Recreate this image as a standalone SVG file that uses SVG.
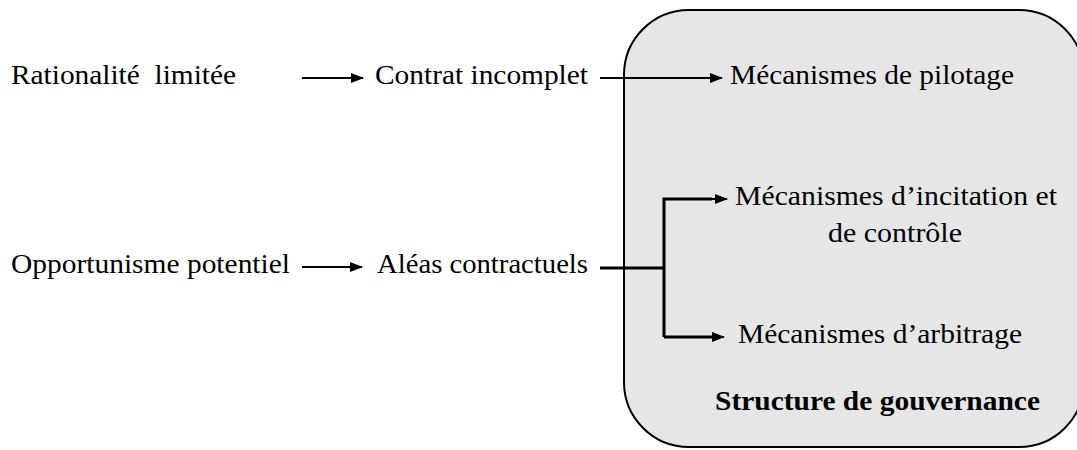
<svg xmlns="http://www.w3.org/2000/svg" width="1077" height="450" viewBox="0 0 1077 450">
<style>
text{font-family:"Liberation Serif","Times New Roman",serif;font-size:28px;fill:#000;white-space:pre}
.b{font-weight:bold}
.m{text-anchor:middle}
.c{fill:none;stroke:#000;stroke-width:2}
.t{fill:none;stroke:#000;stroke-width:3}
</style>
<defs>
<marker id="ah" markerWidth="13" markerHeight="10" refX="12" refY="5" orient="auto" markerUnits="userSpaceOnUse">
<path d="M0,0 L13,5 L0,10 Z" fill="#000"/>
</marker>
</defs>
<rect width="1077" height="450" fill="#fff"/>
<g id="structure">
<rect x="624" y="10" width="460" height="437" rx="65" ry="65" fill="#e6e6e6" stroke="#000" stroke-width="2"/>
<text class="b" x="715" y="410" textLength="325" lengthAdjust="spacingAndGlyphs">Structure de gouvernance</text>
</g>
<g id="connectors">
<line class="c" x1="302" y1="78" x2="363" y2="78" marker-end="url(#ah)"/>
<line class="c" x1="600" y1="78" x2="722" y2="78" marker-end="url(#ah)"/>
<line class="c" x1="302" y1="267" x2="362" y2="267" marker-end="url(#ah)"/>
<line class="t" x1="600" y1="268" x2="664" y2="268"/>
<polyline class="t" points="664,337 664,199 712,199"/>
<line class="c" x1="710" y1="199" x2="727" y2="199" marker-end="url(#ah)"/>
<line class="t" x1="664" y1="337" x2="712" y2="337"/>
<line class="c" x1="710" y1="337" x2="724" y2="337" marker-end="url(#ah)"/>
</g>
<g id="n1"><text x="11" y="84" textLength="225" lengthAdjust="spacingAndGlyphs">Rationalité  limitée</text></g>
<g id="n2"><text x="375" y="84" textLength="213" lengthAdjust="spacingAndGlyphs">Contrat incomplet</text></g>
<g id="n3"><text x="730" y="84" textLength="284" lengthAdjust="spacingAndGlyphs">Mécanismes de pilotage</text></g>
<g id="n4"><text x="11" y="273" textLength="279" lengthAdjust="spacingAndGlyphs">Opportunisme potentiel</text></g>
<g id="n5"><text x="377" y="273" textLength="211" lengthAdjust="spacingAndGlyphs">Aléas contractuels</text></g>
<g id="n6"><text x="735" y="205" textLength="322" lengthAdjust="spacingAndGlyphs">Mécanismes d’incitation et</text><text x="828" y="242" textLength="134" lengthAdjust="spacingAndGlyphs">de contrôle</text></g>
<g id="n7"><text x="738" y="343" textLength="284" lengthAdjust="spacingAndGlyphs">Mécanismes d’arbitrage</text></g>
</svg>
